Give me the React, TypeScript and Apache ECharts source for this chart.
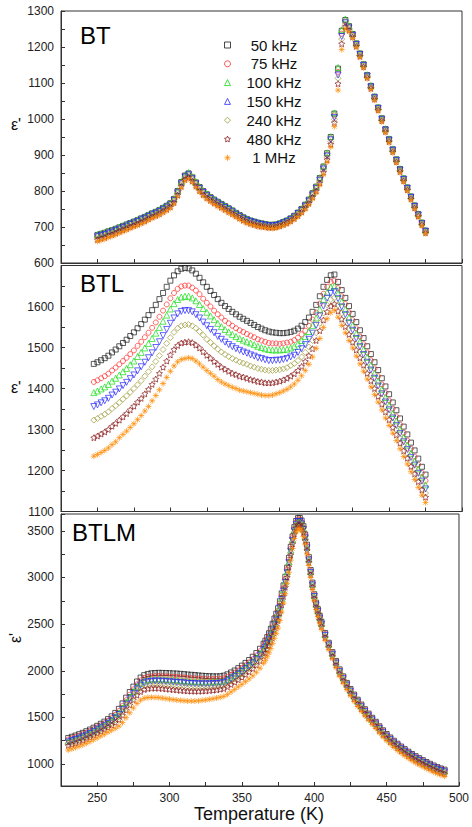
import React, { useEffect, useRef } from "react";
import * as echarts from "echarts";

// ---------- labels ----------
const freqNames = ["50 kHz", "75 kHz", "100 kHz", "150 kHz", "240 kHz", "480 kHz", "1 MHz"];
const panelLabels = ["BT", "BTL", "BTLM"];
const xTitle = "Temperature (K)";
const yTitle = "ε'";

// ---------- temperatures (K) ----------
const tempBT = [250,252.5,255,257.5,260,262.5,265,267.5,270,272.5,275,277.5,280,282.5,285,287.5,290,292.5,295,297.5,300,302.5,305,307.5,310,312.5,315,317.5,320,322.5,325,327.5,330,332.5,335,337.5,340,342.5,345,347.5,350,352.5,355,357.5,360,362.5,365,367.5,370,372.5,375,377.5,380,382.5,385,387.5,390,392.5,395,397.5,400,402.5,405,407.5,410,412.5,415,417.5,420,422.5,425,427.5,430,432.5,435,437.5,440,442.5,445,447.5,450,452.5,455,457.5,460,462.5,465,467.5,470,472.5,475];
const tempBTL = [247.5,250,252.5,255,257.5,260,262.5,265,267.5,270,272.5,275,277.5,280,282.5,285,287.5,290,292.5,295,297.5,300,302.5,305,307.5,310,312.5,315,317.5,320,322.5,325,327.5,330,332.5,335,337.5,340,342.5,345,347.5,350,352.5,355,357.5,360,362.5,365,367.5,370,372.5,375,377.5,380,382.5,385,387.5,390,392.5,395,397.5,400,402.5,405,407.5,410,412.5,415,417.5,420,422.5,425,427.5,430,432.5,435,437.5,440,442.5,445,447.5,450,452.5,455,457.5,460,462.5,465,467.5,470,472.5,475];
const tempBTLM = [230,232.5,235,237.5,240,242.5,245,247.5,250,252.5,255,257.5,260,262.5,265,267.5,270,272.5,275,277.5,280,282.5,285,287.5,290,292.5,295,297.5,300,302.5,305,307.5,310,312.5,315,317.5,320,322.5,325,327.5,330,332.5,335,337.5,340,342.5,345,347.5,350,352.5,355,357.5,360,362.5,
  365,366.25,367.5,368.75,370,371.25,372.5,373.75,375,376.25,377.5,378.75,380,381.25,382.5,383.75,385,386.25,387.5,388.75,390,391.25,392.5,393.75,395,396.25,397.5,398.75,400,401.25,402.5,403.75,405,
  407.5,410,412.5,415,417.5,420,422.5,425,427.5,430,432.5,435,437.5,440,442.5,445,447.5,450,452.5,455,457.5,460,462.5,465,467.5,470,472.5,475,477.5,480,482.5,485,487.5,490];

// ---------- BT panel ----------
const bt50 = [678,681,684,688,691,695,699,703,707,711,715,719,724,728,733,738,742,747,753,759,766,778,800,825,843,849,838,824,811,800,791,783,776,770,764,758,752,746,739,733,727,722,718,715,712,710,708,706,706,707,710,714,718,724,731,740,750,762,776,794,812,836,868,905,950,1015,1140,1245,1275,1258,1236,1210,1182,1152,1122,1092,1062,1032,1002,972,944,916,888,861,835,810,785,760,736,712,690];
const bt75 = [675,678,681,685,688,692,697,701,705,709,713,717,722,726,731,736,740,745,751,757,764,776,798,822,841,847,836,822,809,798,789,781,774,768,762,756,750,744,737,731,725,720,716,713,710,708,706,704,704,705,708,712,716,722,729,738,748,760,774,792,809,833,865,901,946,1010,1131,1237,1271,1256,1234,1208,1180,1150,1120,1090,1060,1030,1000,970,942,914,886,859,833,808,783,758,735,711,689];
const bt100 = [679,682,685,689,692,696,700,704,708,712,716,720,725,729,734,739,743,748,754,760,767,779,801,826,844,851,840,826,812,801,792,784,777,771,765,759,753,747,740,734,728,723,719,716,713,711,709,707,707,708,711,715,719,725,732,741,751,763,777,795,813,837,869,906,951,1017,1143,1248,1278,1259,1237,1211,1183,1153,1123,1093,1063,1033,1003,973,945,917,889,862,836,811,786,761,737,713,691];
const bt150 = [673,676,679,683,686,690,694,698,702,707,711,715,720,724,729,734,738,743,749,755,762,774,795,820,839,845,834,820,807,796,787,779,772,766,760,754,748,742,735,729,723,718,715,712,709,707,705,703,703,704,707,711,715,721,728,737,746,758,772,789,807,830,861,897,942,1004,1122,1229,1267,1253,1232,1207,1179,1149,1119,1089,1059,1029,999,969,941,913,885,858,832,807,782,757,733,709,688];
const bt240 = [670,673,676,680,683,687,692,696,700,704,708,712,717,721,727,732,736,741,747,753,760,772,793,817,836,842,832,818,805,794,785,777,770,764,758,752,746,740,734,728,722,717,713,710,707,705,703,701,701,702,705,709,713,719,726,735,745,756,770,787,804,827,858,894,937,999,1113,1222,1264,1251,1231,1205,1177,1147,1117,1087,1057,1027,997,967,939,911,883,856,830,805,780,755,732,708,686];
const bt480 = [665,668,671,676,679,683,688,692,696,700,704,708,713,717,723,728,732,737,743,749,756,768,789,813,832,838,828,814,801,790,781,774,767,761,755,749,743,737,731,725,719,714,710,707,704,702,701,699,699,700,703,707,711,717,724,732,742,753,766,783,800,822,852,887,930,990,1098,1209,1257,1247,1228,1202,1174,1145,1115,1085,1055,1025,995,965,937,909,881,854,828,803,778,753,730,706,684];
const bt1M = [660,663,666,671,674,678,683,687,691,696,700,704,709,713,719,724,728,733,739,745,752,764,784,808,828,834,824,810,797,786,777,770,763,757,751,745,739,733,727,721,715,710,707,704,701,699,698,696,696,697,700,704,708,714,721,729,738,749,762,778,795,816,845,880,922,979,1080,1193,1250,1242,1224,1199,1171,1142,1112,1082,1052,1022,992,962,934,906,878,851,825,800,775,750,727,703,682];

// ---------- BTL panel ----------
const btl50 = [1460,1464,1469,1474,1480,1488,1495,1503,1511,1519,1528,1537,1547,1557,1568,1579,1591,1604,1618,1633,1648,1663,1676,1686,1692,1694,1693,1688,1680,1670,1659,1648,1638,1628,1618,1609,1601,1594,1587,1581,1575,1570,1565,1560,1555,1550,1546,1542,1539,1537,1536,1535,1535,1536,1538,1541,1546,1553,1562,1573,1587,1604,1625,1648,1665,1676,1678,1660,1640,1621,1601,1582,1562,1542,1523,1503,1484,1464,1445,1425,1405,1386,1366,1347,1327,1307,1288,1268,1249,1229,1209,1190];
const btl75 = [1416,1420,1425,1430,1436,1444,1451,1459,1467,1475,1484,1493,1504,1514,1525,1536,1548,1561,1575,1590,1605,1620,1633,1643,1649,1651,1651,1646,1639,1630,1619,1609,1600,1590,1581,1573,1565,1559,1553,1547,1542,1538,1533,1529,1525,1520,1517,1514,1511,1510,1510,1509,1510,1512,1514,1518,1524,1532,1541,1553,1568,1585,1607,1631,1648,1660,1663,1645,1625,1606,1586,1567,1547,1527,1508,1488,1469,1449,1430,1410,1390,1371,1351,1332,1312,1292,1273,1253,1234,1214,1194,1175];
const btl100 = [1390,1394,1399,1404,1410,1418,1425,1433,1441,1449,1458,1467,1478,1488,1499,1510,1522,1535,1549,1564,1579,1594,1607,1617,1623,1625,1625,1621,1614,1605,1595,1586,1577,1568,1559,1551,1544,1538,1532,1527,1522,1518,1514,1511,1507,1503,1500,1497,1495,1494,1494,1494,1495,1496,1499,1503,1509,1517,1527,1539,1554,1572,1593,1617,1635,1647,1650,1632,1612,1593,1573,1554,1534,1514,1495,1476,1457,1437,1418,1398,1378,1359,1339,1321,1301,1281,1262,1242,1223,1204,1184,1165];
const btl150 = [1356,1360,1365,1370,1376,1384,1391,1399,1407,1415,1424,1433,1443,1453,1464,1475,1487,1500,1514,1529,1544,1559,1572,1582,1588,1590,1590,1587,1580,1572,1562,1553,1544,1536,1527,1520,1513,1507,1502,1497,1493,1489,1486,1482,1479,1475,1473,1470,1468,1468,1469,1469,1471,1473,1477,1481,1488,1497,1507,1520,1535,1554,1577,1601,1620,1632,1636,1619,1599,1580,1560,1542,1522,1502,1483,1464,1445,1425,1406,1387,1367,1348,1328,1310,1290,1270,1251,1232,1213,1193,1174,1155];
const btl240 = [1323,1327,1332,1337,1343,1351,1358,1366,1374,1382,1391,1400,1409,1419,1430,1441,1453,1466,1480,1495,1510,1524,1537,1547,1553,1555,1556,1553,1547,1539,1530,1520,1512,1504,1496,1489,1483,1478,1473,1469,1465,1462,1459,1455,1452,1449,1447,1445,1444,1444,1445,1446,1448,1451,1456,1461,1468,1477,1488,1501,1517,1536,1559,1584,1604,1617,1621,1604,1584,1566,1546,1528,1508,1489,1470,1451,1432,1413,1394,1375,1355,1337,1317,1299,1279,1260,1241,1222,1203,1184,1164,1145];
const btl480 = [1280,1284,1289,1294,1300,1308,1315,1323,1331,1339,1348,1357,1367,1376,1387,1398,1410,1423,1437,1452,1467,1482,1495,1505,1511,1513,1514,1512,1506,1499,1490,1481,1474,1466,1459,1452,1447,1442,1437,1434,1430,1428,1425,1422,1420,1417,1416,1414,1414,1414,1416,1418,1421,1425,1430,1436,1444,1454,1466,1480,1497,1517,1541,1567,1587,1601,1606,1589,1569,1551,1532,1513,1494,1475,1457,1437,1419,1400,1381,1362,1343,1324,1305,1287,1267,1248,1230,1210,1192,1173,1153,1135];
const btl1M = [1235,1239,1244,1249,1255,1263,1270,1280,1288,1296,1305,1314,1324,1334,1345,1356,1370,1383,1397,1412,1427,1442,1455,1465,1471,1473,1475,1473,1467,1460,1452,1444,1437,1430,1422,1416,1411,1407,1403,1400,1396,1394,1392,1390,1388,1386,1384,1383,1383,1384,1387,1390,1394,1398,1404,1411,1420,1431,1444,1459,1477,1498,1522,1549,1570,1585,1591,1574,1554,1536,1517,1499,1479,1460,1442,1423,1404,1385,1367,1348,1328,1310,1291,1273,1253,1234,1216,1197,1178,1159,1140,1122];

// ---------- BTLM panel ----------
const btlm50 = [1280,1293,1306,1320,1335,1352,1370,1390,1410,1432,1455,1482,1512,1548,1592,1650,1712,1772,1830,1885,1927,1953,1966,1973,1976,1978,1977,1976,1974,1972,1970,1967,1964,1960,1957,1954,1950,1947,1944,1942,1941,1940,1942,1948,1962,1982,2003,2028,2055,2084,2115,2150,2190,2236,
  2290,2322,2360,2402,2450,2503,2560,2612,2670,2745,2830,2915,3007,3105,3210,3328,3440,3540,3605,3636,3638,3610,3550,3460,3350,3218,3080,2945,2820,2730,2660,2590,2525,
  2405,2300,2200,2105,2015,1940,1870,1805,1745,1690,1638,1588,1541,1496,1453,1405,1362,1322,1285,1250,1218,1188,1160,1133,1108,1085,1063,1042,1022,1003,985,968,953,940];
const btlm75 = [1263,1276,1289,1303,1318,1335,1353,1373,1393,1415,1437,1464,1492,1527,1568,1623,1684,1743,1800,1854,1896,1921,1933,1939,1942,1943,1942,1940,1938,1935,1933,1930,1927,1923,1920,1918,1915,1913,1911,1910,1910,1910,1913,1919,1934,1955,1977,2002,2029,2058,2089,2123,2163,2209,
  2263,2295,2333,2375,2423,2476,2533,2585,2642,2718,2804,2890,2984,3083,3190,3310,3423,3524,3590,3621,3623,3595,3536,3446,3337,3206,3070,2935,2811,2720,2650,2580,2515,
  2395,2290,2191,2096,2006,1931,1861,1796,1736,1681,1629,1579,1532,1487,1444,1396,1353,1313,1276,1241,1209,1179,1151,1124,1099,1076,1054,1033,1013,994,976,959,944,931];
const btlm100 = [1247,1260,1273,1287,1302,1319,1337,1357,1377,1399,1421,1447,1474,1507,1546,1599,1658,1716,1773,1826,1866,1891,1903,1908,1910,1911,1909,1907,1904,1902,1899,1896,1893,1889,1886,1884,1882,1881,1880,1880,1881,1882,1885,1892,1908,1930,1952,1978,2005,2034,2064,2099,2138,2184,
  2238,2269,2307,2349,2397,2450,2507,2559,2617,2693,2780,2867,2962,3063,3171,3292,3407,3509,3576,3607,3609,3582,3522,3434,3325,3195,3060,2926,2802,2711,2640,2570,2505,
  2385,2281,2182,2087,1997,1922,1852,1787,1727,1672,1620,1570,1523,1478,1435,1387,1344,1304,1267,1232,1200,1170,1142,1115,1090,1067,1045,1024,1004,985,967,950,935,922];
const btlm150 = [1237,1250,1263,1277,1292,1309,1327,1347,1367,1388,1410,1436,1462,1494,1531,1582,1641,1699,1755,1807,1847,1871,1883,1888,1890,1890,1888,1886,1882,1879,1876,1873,1870,1866,1864,1862,1860,1860,1860,1860,1862,1863,1867,1875,1891,1913,1936,1962,1989,2018,2048,2083,2122,2167,
  2221,2253,2291,2333,2381,2434,2490,2542,2600,2677,2764,2852,2948,3050,3159,3281,3397,3499,3566,3598,3600,3573,3514,3425,3317,3188,3054,2920,2796,2705,2634,2564,2499,
  2379,2276,2176,2081,1991,1916,1846,1781,1721,1666,1614,1564,1518,1473,1430,1382,1339,1299,1262,1227,1195,1165,1137,1110,1085,1062,1040,1019,999,980,962,945,930,917];
const btlm240 = [1221,1234,1247,1261,1276,1293,1311,1331,1351,1373,1394,1419,1444,1474,1509,1558,1615,1672,1727,1779,1818,1841,1852,1857,1858,1858,1855,1853,1849,1846,1842,1839,1836,1832,1830,1829,1828,1828,1829,1830,1833,1836,1840,1848,1865,1888,1912,1938,1965,1994,2024,2058,2097,2142,
  2196,2227,2265,2307,2355,2408,2465,2517,2575,2652,2740,2829,2926,3029,3140,3264,3381,3485,3552,3584,3586,3560,3500,3413,3305,3177,3044,2911,2788,2696,2625,2554,2489,
  2370,2267,2168,2073,1983,1908,1838,1773,1713,1658,1606,1556,1509,1464,1421,1373,1330,1290,1253,1218,1186,1156,1128,1101,1076,1053,1031,1010,990,971,953,936,921,908];
const btlm480 = [1199,1212,1225,1239,1254,1271,1289,1309,1329,1350,1371,1395,1419,1446,1477,1523,1579,1634,1689,1739,1777,1799,1809,1813,1814,1813,1810,1806,1802,1798,1794,1790,1787,1784,1782,1782,1781,1783,1785,1788,1792,1796,1802,1810,1829,1853,1877,1904,1931,1960,1990,2024,2062,2107,
  2160,2192,2230,2272,2320,2373,2429,2481,2539,2617,2706,2797,2895,3001,3114,3240,3359,3464,3532,3564,3567,3541,3482,3395,3288,3162,3030,2898,2775,2683,2612,2541,2475,
  2357,2254,2155,2060,1970,1895,1825,1760,1700,1645,1593,1543,1497,1452,1409,1361,1318,1278,1241,1206,1174,1144,1116,1089,1064,1041,1019,998,978,959,941,924,909,896];
const btlm1M = [1150,1163,1176,1190,1205,1222,1240,1260,1280,1300,1320,1342,1362,1383,1407,1445,1497,1550,1602,1650,1685,1705,1713,1715,1714,1712,1707,1702,1696,1691,1686,1682,1679,1676,1675,1676,1678,1683,1688,1694,1701,1708,1716,1726,1747,1774,1800,1828,1855,1884,1913,1946,1984,2028,
  2081,2112,2150,2192,2240,2293,2349,2401,2458,2539,2630,2725,2827,2937,3055,3186,3310,3417,3488,3520,3523,3498,3440,3355,3250,3128,3000,2869,2748,2655,2582,2511,2445,
  2327,2226,2128,2033,1943,1868,1798,1733,1673,1618,1566,1516,1470,1425,1382,1334,1291,1251,1214,1179,1147,1117,1089,1062,1037,1014,992,971,951,932,914,897,882,869];

// ---------- styling ----------
const FONT = "'Liberation Sans', Arial, Helvetica, sans-serif";
const STAR = "path://M0,-10L2.94,-4.05L9.51,-3.09L4.76,1.55L5.88,8.09L0,5L-5.88,8.09L-4.76,1.55L-9.51,-3.09L-2.94,-4.05Z";
const ASTER = "path://M0,-10L0,10M-10,0L10,0M-7,-7L7,7M-7,7L7,-7";
const seriesStyles = [
  { color: "#1a1a1a", symbol: "rect", size: 5, rotate: 0 },
  { color: "#ff2a2a", symbol: "circle", size: 5, rotate: 0 },
  { color: "#18dc18", symbol: "triangle", size: 6, rotate: 0 },
  { color: "#2a2aff", symbol: "triangle", size: 6, rotate: 180 },
  { color: "#9a9a3a", symbol: "diamond", size: 6, rotate: 0 },
  { color: "#8b1c1c", symbol: STAR, size: 6, rotate: 0 },
  { color: "#ff8a00", symbol: ASTER, size: 6, rotate: 0 },
];

const panels = [
  { temps: tempBT, values: [bt50, bt75, bt100, bt150, bt240, bt480, bt1M] },
  { temps: tempBTL, values: [btl50, btl75, btl100, btl150, btl240, btl480, btl1M] },
  { temps: tempBTLM, values: [btlm50, btlm75, btlm100, btlm150, btlm240, btlm480, btlm1M] },
];

function zip(xs: number[], ys: number[]) {
  const n = Math.min(xs.length, ys.length);
  const out: number[][] = [];
  for (let i = 0; i < n; i++) out.push([xs[i], ys[i]]);
  return out;
}

export default function App() {
  const ref = useRef<HTMLDivElement>(null);
  useEffect(() => {
    if (!ref.current) return;
    const chart = echarts.init(ref.current, undefined, { renderer: "svg" });

    const gridDefs = [
      { top: 11, height: 252 },
      { top: 265.5, height: 246 },
      { top: 514, height: 272 },
    ];
    const grid = gridDefs.map((g) => ({
      left: 61, right: 10, top: g.top, height: g.height,
      show: true, borderColor: "#333", borderWidth: 1, backgroundColor: "transparent",
    }));

    const axisCommon = {
      axisLine: { lineStyle: { color: "#333", width: 1 } },
      axisTick: { inside: true, length: 4, lineStyle: { color: "#333" } },
      splitLine: { show: false },
    };

    const xAxis = [0, 1, 2].map((i) => ({
      type: "value", gridIndex: i, min: 225, max: 500, interval: 25,
      ...axisCommon,
      axisLabel: {
        show: i === 2, fontSize: 12, color: "#222", margin: 6, fontFamily: FONT,
        formatter: (v: number) => (v % 50 === 0 ? String(v) : ""),
      },
    }));

    const yAxis = [
      {
        type: "value", gridIndex: 0, min: 600, max: 1300, interval: 50, ...axisCommon,
        axisLabel: { fontSize: 12, color: "#222", margin: 7, fontFamily: FONT,
          formatter: (v: number) => (v % 100 === 0 ? String(v) : "") },
      },
      {
        type: "value", gridIndex: 1, min: 1100, max: 1700, interval: 50, ...axisCommon,
        axisLabel: { fontSize: 12, color: "#222", margin: 7, fontFamily: FONT,
          formatter: (v: number) => (v % 100 === 0 && v !== 1700 ? String(v) : "") },
      },
      {
        type: "value", gridIndex: 2, min: 765, max: 3680, minInterval: 250, maxInterval: 250, ...axisCommon,
        axisLabel: { fontSize: 12, color: "#222", margin: 7, fontFamily: FONT,
          formatter: (v: number) => (v % 500 === 0 ? String(v) : "") },
      },
    ];

    const series: any[] = [];
    panels.forEach((p, gi) => {
      p.values.forEach((vals, k) => {
        const s = seriesStyles[k];
        series.push({
          type: "scatter",
          name: freqNames[k],
          xAxisIndex: gi,
          yAxisIndex: gi,
          symbol: s.symbol,
          symbolSize: s.size,
          symbolRotate: s.rotate,
          itemStyle: { color: "rgba(255,255,255,0)", borderColor: s.color, borderWidth: 0.9 },
          emphasis: { disabled: true },
          silent: true,
          data: zip(p.temps, vals),
        });
      });
    });

    const labelPos = [
      { x: 80, y: 35.5 },
      { x: 80, y: 283.5 },
      { x: 72, y: 532 },
    ];
    const graphic: any[] = [];
    panelLabels.forEach((t, i) => {
      graphic.push({
        type: "text", x: labelPos[i].x, y: labelPos[i].y, silent: true,
        style: { text: t, fontSize: 24, fontFamily: FONT, fill: "#000",
          align: "left", verticalAlign: "middle", textAlign: "left", textVerticalAlign: "middle" },
      });
    });
    const yNamePos = [
      { x: 16, y: 124, rot: 0 },
      { x: 16, y: 387, rot: 0 },
      { x: 15, y: 638, rot: Math.PI / 2 },
    ];
    yNamePos.forEach((p) => {
      graphic.push({
        type: "text", x: p.x, y: p.y, rotation: p.rot, silent: true,
        style: { text: yTitle, fontSize: 16, fontFamily: FONT, fill: "#111",
          align: "center", verticalAlign: "middle", textAlign: "center", textVerticalAlign: "middle" },
      });
    });
    graphic.push({
      type: "text", x: 259, y: 814, silent: true,
      style: { text: xTitle, fontSize: 18, fontFamily: FONT, fill: "#111",
        align: "center", verticalAlign: "middle", textAlign: "center", textVerticalAlign: "middle" },
    });

    chart.setOption({
      animation: false,
      backgroundColor: "#fff",
      textStyle: { fontFamily: FONT },
      grid,
      xAxis,
      yAxis,
      legend: {
        orient: "vertical",
        left: 219,
        top: 32.5,
        itemWidth: 6,
        itemHeight: 6,
        itemGap: 3.8,
        selectedMode: false,
        data: freqNames.map((n, k) => ({
          name: n,
          itemStyle: {
            color: "rgba(255,255,255,0)",
            borderColor: seriesStyles[k].color,
            borderWidth: 1,
          },
        })),
        formatter: (n: string) => `{a|${n}}`,
        textStyle: {
          rich: {
            a: { width: 77, align: "center", fontSize: 15, color: "#111", fontFamily: FONT },
          },
        },
      },
      graphic,
      series,
    });

    return () => chart.dispose();
  }, []);

  return (
    <div
      ref={ref}
      style={{ position: "absolute", left: 0, top: 0, width: 472, height: 827, background: "#fff" }}
    />
  );
}
